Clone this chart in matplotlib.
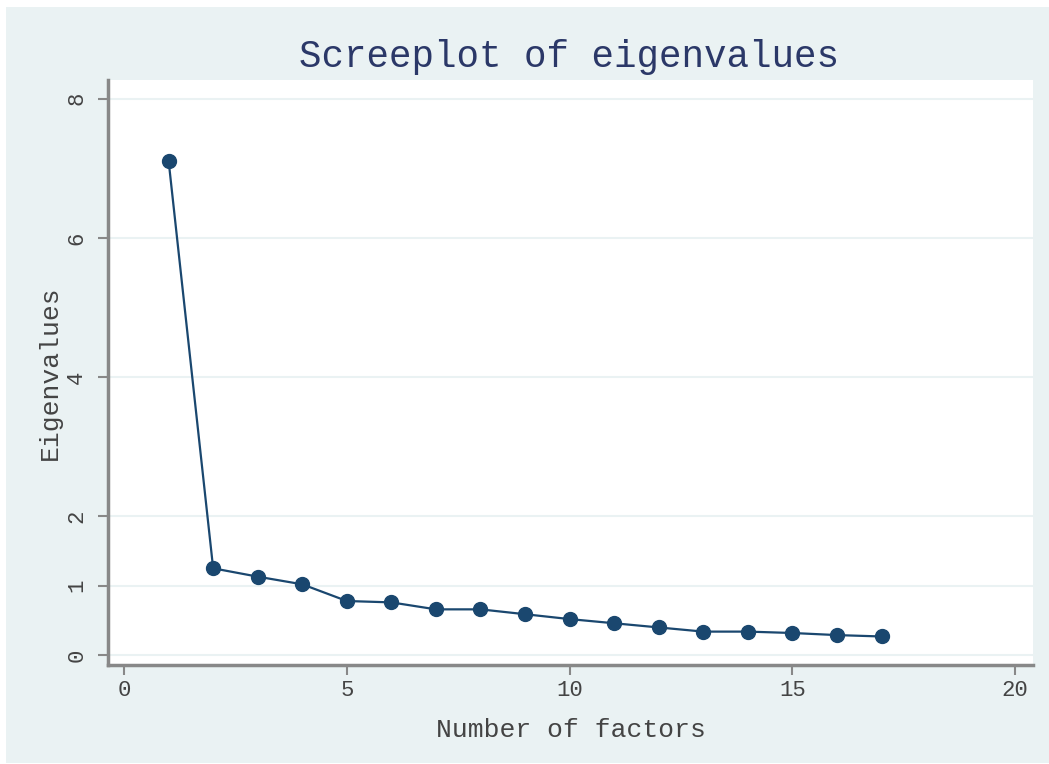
import matplotlib
matplotlib.use("Agg")
import matplotlib.pyplot as plt
from matplotlib.patches import Rectangle

# eigenvalues
factors = list(range(1, 18))
eigenvalues = [7.11, 1.25, 1.13, 1.02, 0.78, 0.76, 0.66, 0.66, 0.59,
               0.52, 0.46, 0.40, 0.34, 0.34, 0.32, 0.29, 0.27]
yticks = [0, 1, 2, 4, 6, 8]
xticks = [0, 5, 10, 15, 20]

BG = "#eaf2f3"
NAVY = "#1a476f"
GREY = "#888888"
TXT = "#444444"
MONO = "Liberation Mono"

fig = plt.figure(figsize=(10.49, 7.64), dpi=100, facecolor="white")
fig.patches.append(Rectangle((6 / 1049, 1 / 764), 1 - 6 / 1049, 1 - 8 / 764,
                             transform=fig.transFigure, facecolor=BG,
                             edgecolor="none", zorder=-10))

ax = fig.add_axes([108 / 1049, 1 - 665 / 764, (1033 - 108) / 1049, (665 - 80) / 764])
ax.set_facecolor("white")

ax.plot(factors, eigenvalues, color=NAVY, lw=1.6, marker="o",
        markersize=10, markerfacecolor=NAVY, markeredgecolor=NAVY, zorder=3)

ax.set_xlim(-0.36, 20.4)
ax.set_ylim(-0.14, 8.27)
ax.set_xticks(xticks)
ax.set_yticks(yticks)
ax.grid(axis="y", color=BG, lw=1.5)
ax.grid(axis="x", visible=False)

for side in ("top", "right"):
    ax.spines[side].set_visible(False)
for side in ("left", "bottom"):
    ax.spines[side].set_color(GREY)
    ax.spines[side].set_linewidth(2.5)

ax.tick_params(axis="both", direction="out", length=7, width=1.5, color=GREY,
               labelcolor=TXT, labelsize=16)
ax.tick_params(axis="x", pad=4)
ax.tick_params(axis="y", pad=8)
for lab in ax.get_xticklabels():
    lab.set_fontfamily(MONO)
for lab in ax.get_yticklabels():
    lab.set_fontfamily(MONO)
    lab.set_rotation(90)
    lab.set_verticalalignment("center")

ax.set_xlabel("Number of factors", fontfamily=MONO, fontsize=19, color=TXT, labelpad=12)
ax.set_ylabel("Eigenvalues", fontfamily=MONO, fontsize=19, color=TXT, labelpad=3)

fig.text(569 / 1049, 1 - 57 / 764, "Screeplot of eigenvalues", fontfamily=MONO,
         fontsize=27, color="#2b3868", ha="center", va="center")

fig.savefig("out.png", dpi=100, facecolor=fig.get_facecolor())
